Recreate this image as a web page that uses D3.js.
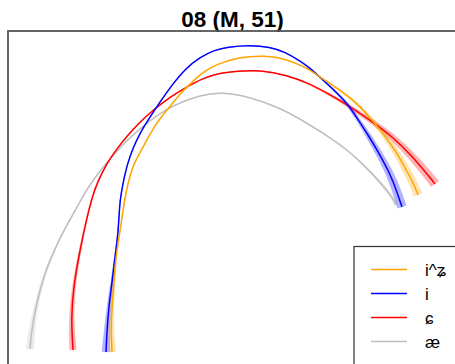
<!DOCTYPE html>
<html>
<head>
<meta charset="utf-8">
<script src="https://cdn.jsdelivr.net/npm/d3@7"></script>
<style>
  html, body { margin: 0; padding: 0; background: #fff; }
  svg { display: block; }
  text { font-family: "Liberation Sans", Arial, "DejaVu Sans", sans-serif; }
</style>
</head>
<body>
<svg id="chart" width="455" height="364"></svg>
<script>
// Tongue contours (mm) with confidence half-widths, speaker 08
const labels = ["i^ʑ", "i", "ɕ", "æ"];
const colors = ["#FFA500", "#0000FF", "#FF0000", "#BEBEBE"];

const xIZ = [-44.2,-44.4,-44.2,-43.8,-43.6,-43.4,-43.0,-42.4,-42.0,-41.6,-41.0,-40.0,-38.2,-36.6,-35.0,-33.2,-30.6,-28.6,-26.0,-23.2,-19.2,-16.6,-14.0,-11.2,-8.6,-6.6,-4.6,-2.0,1.4,4.8,8.0,10.4,12.8,14.4,16.0,17.0];
const yIZ = [2.6,7.0,12.0,16.4,19.4,21.4,24.4,28.0,31.0,33.4,36.4,40.0,43.2,46.2,48.8,51.0,54.2,56.2,58.6,60.2,61.4,61.7,61.8,61.6,60.8,60.0,59.0,57.2,55.0,52.4,48.8,45.8,42.4,39.4,36.6,34.0];
const ciIZ = [0.75,0.55,0.4,0.3,0.22,0.18,0.15,0.12,0.1,0.1,0.1,0.1,0.1,0.1,0.1,0.1,0.1,0.1,0.1,0.1,0.1,0.1,0.1,0.1,0.1,0.1,0.12,0.15,0.2,0.28,0.4,0.52,0.65,0.75,0.85,0.9];

const xI = [-45.4,-45.2,-44.8,-44.2,-43.8,-43.4,-43.0,-42.8,-42.6,-42.0,-41.2,-40.0,-38.6,-36.6,-34.6,-32.2,-29.6,-26.6,-23.6,-21.2,-16.6,-12.6,-9.6,-6.6,-4.6,-2.0,0.4,2.8,4.8,6.8,10.0,12.0,13.8];
const yI = [2.6,7.0,12.0,16.4,20.0,23.0,26.4,29.6,33.0,36.4,40.0,43.4,46.4,49.6,52.6,56.0,59.2,61.6,63.0,63.6,64.0,63.6,62.6,60.8,59.4,57.0,54.8,52.4,49.4,46.4,41.0,37.0,31.6];
const ciI = [0.85,0.6,0.42,0.3,0.22,0.17,0.13,0.1,0.1,0.1,0.1,0.1,0.1,0.1,0.1,0.1,0.1,0.1,0.1,0.1,0.1,0.1,0.1,0.1,0.12,0.15,0.2,0.28,0.4,0.52,0.7,0.85,0.95];

const xS = [-52.0,-52.4,-51.8,-50.6,-49.2,-48.2,-47.2,-45.2,-43.4,-41.2,-38.6,-36.2,-32.6,-29.6,-26.0,-22.6,-19.2,-14.6,-9.2,-4.6,-2.0,2.0,7.4,12.0,16.0,19.8,20.4];
const yS = [3.0,9.6,16.4,23.0,29.6,33.4,36.4,40.4,43.0,45.8,48.6,50.8,53.6,55.4,57.4,58.4,58.8,59.0,58.0,56.2,54.8,52.6,49.0,45.6,41.6,37.0,36.2];
const ciS = [0.7,0.5,0.35,0.25,0.18,0.14,0.12,0.1,0.1,0.1,0.1,0.1,0.1,0.1,0.1,0.1,0.1,0.1,0.12,0.15,0.22,0.35,0.5,0.65,0.8,0.95,1.0];

const xAE = [-60.6,-60.3,-59.8,-59.1,-58.2,-57.1,-55.7,-54.1,-52.3,-50.4,-48.6,-45.2,-41.2,-36.6,-32.0,-26.6,-22.2,-16.6,-10.6,-6.6,-2.0,2.4,5.8,9.4,12.0,12.6];
const yAE = [3.2,6.4,9.6,13.0,16.4,19.8,23.0,26.4,29.6,33.0,36.2,40.6,45.0,49.0,52.0,54.0,54.6,53.6,51.4,49.2,46.4,43.4,40.4,36.6,33.4,32.0];
const ciAE = [0.8,0.65,0.5,0.4,0.32,0.25,0.2,0.17,0.15,0.13,0.12,0.1,0.1,0.1,0.1,0.1,0.1,0.1,0.1,0.1,0.12,0.15,0.2,0.28,0.35,0.4];

const seriesX = [xIZ, xI, xS, xAE];
const seriesY = [yIZ, yI, yS, yAE];
const seriesCI = [ciIZ, ciI, ciS, ciAE];

const svg = d3.select("#chart");

const x = d3.scaleLinear().domain([-65, 25]).range([8, 458]);
const y = d3.scaleLinear().domain([0, 67]).range([365, 30]);
const unit = Math.abs(x(1) - x(0));

// Title
svg.append("text")
  .attr("x", 232.5).attr("y", 27)
  .attr("text-anchor", "middle")
  .attr("font-size", 22.5).attr("font-weight", "bold")
  .attr("fill", "#000")
  .text("08 (M, 51)");

const series = labels.map((lab, k) => {
  const pts = seriesX[k].map((v, i) => ({ px: x(v), py: y(seriesY[k][i]), ci: seriesCI[k][i] }));
  // unit normal at each point, from neighbouring points
  pts.forEach((p, i) => {
    const a = pts[Math.max(0, i - 1)], b = pts[Math.min(pts.length - 1, i + 1)];
    const dx = b.px - a.px, dy = b.py - a.py, len = Math.hypot(dx, dy) || 1;
    p.nx = -dy / len; p.ny = dx / len;
  });
  return { label: lab, color: colors[k], pts };
});

const g = svg.append("g");

const band = d3.area()
  .x0(p => p.px + p.nx * p.ci * unit).y0(p => p.py + p.ny * p.ci * unit)
  .x1(p => p.px - p.nx * p.ci * unit).y1(p => p.py - p.ny * p.ci * unit)
  .curve(d3.curveBasis);

const line = d3.line().x(p => p.px).y(p => p.py).curve(d3.curveBasis);

// confidence bands first, then the contours on top
series.slice().reverse().forEach(s => {
  g.append("path").attr("d", band(s.pts))
    .attr("fill", s.color).attr("fill-opacity", 0.3).attr("stroke", "none");
});
series.slice().reverse().forEach(s => {
  g.append("path").attr("d", line(s.pts))
    .attr("fill", "none").attr("stroke", s.color).attr("stroke-width", 1.5);
});

// Plot frame (open to the right and bottom of the window)
svg.append("rect")
  .attr("x", 8).attr("y", 31).attr("width", 470).attr("height", 360)
  .attr("fill", "none").attr("stroke", "#555").attr("stroke-width", 1.8);

// Legend
const lg = svg.append("g");
lg.append("rect")
  .attr("x", 354).attr("y", 246.5).attr("width", 120).attr("height", 140)
  .attr("fill", "#fff").attr("stroke", "#333").attr("stroke-width", 1.2);
const legendY = d3.scalePoint().domain(labels).range([269.5, 341.5]);
labels.forEach((lab, k) => {
  const yy = legendY(lab);
  lg.append("line")
    .attr("x1", 371).attr("x2", 407).attr("y1", yy).attr("y2", yy)
    .attr("stroke", colors[k]).attr("stroke-width", 1.5);
  lg.append("text")
    .attr("x", 425).attr("y", yy + 6)
    .attr("font-size", 17).attr("fill", "#000")
    .text(lab);
});
</script>
</body>
</html>
